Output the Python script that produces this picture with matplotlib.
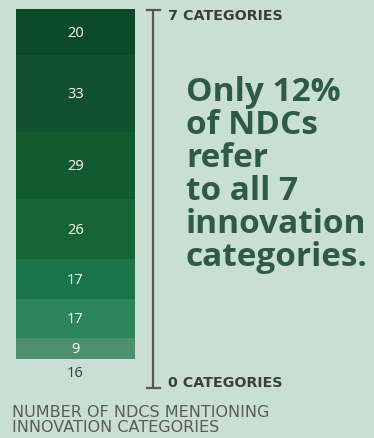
import matplotlib
matplotlib.use("Agg")
import matplotlib.pyplot as plt

# Number of NDCs by how many innovation categories they mention (7 down to 0)
categories = [7, 6, 5, 4, 3, 2, 1, 0]
ndc_counts = [20, 33, 29, 26, 17, 17, 9, 16]
segment_colors = ["#0b4a27", "#0f522d", "#125b31", "#156536",
                  "#197447", "#2c855a", "#4e8f6f", "none"]

headline = "Only 12%\nof NDCs\nrefer\nto all 7\ninnovation\ncategories."
top_label = "7 CATEGORIES"
bottom_label = "0 CATEGORIES"
footer = "NUMBER OF NDCS MENTIONING\nINNOVATION CATEGORIES"

BG = "#c9dfd4"
W, H = 374, 439
fig = plt.figure(figsize=(W / 100, H / 100), dpi=100, facecolor=BG)

# stacked column: 1 category sits at the bottom, 7 at the top
stack_order = list(range(len(categories) - 2, -1, -1))  # skip the 0-category group
colored_total = sum(ndc_counts[i] for i in stack_order)
ax = fig.add_axes([16 / W, 1 - 360 / H, (135 - 16) / W, 350 / H])
ax.set_facecolor("none")
ax.set_xlim(0, 1)
ax.set_ylim(0, colored_total)
ax.axis("off")

base = 0
for i in stack_order:
    v = ndc_counts[i]
    ax.bar(0.5, v, width=1.0, bottom=base, color=segment_colors[i],
           edgecolor="none", linewidth=0)
    ax.text(0.5, base + v / 2, str(v), ha="center", va="center",
            color="white", fontsize=10.5, family="Open Sans")
    base += v

# NDCs mentioning no category: count only, no bar
zero_idx = categories.index(0)
ax.text(0.5, -6, str(ndc_counts[zero_idx]), ha="center", va="center",
        color="#3a3a3a", fontsize=10.5, family="Open Sans", clip_on=False)

# scale bracket on the right of the column
ax2 = fig.add_axes([0, 0, 1, 1])
ax2.set_xlim(0, W)
ax2.set_ylim(H, 0)
ax2.axis("off")
line_col = "#555555"
ax2.plot([153, 153], [10, 389], color=line_col, lw=1.6, solid_capstyle="butt")
ax2.plot([147, 160], [10.5, 10.5], color=line_col, lw=1.6)
ax2.plot([147, 160], [389, 389], color=line_col, lw=1.6)

ax2.text(168, 16, top_label, ha="left", va="center", color="#3d3d3d",
         fontsize=10.3, fontweight="bold", family="DejaVu Sans")
ax2.text(168, 383, bottom_label, ha="left", va="center", color="#3d3d3d",
         fontsize=10.3, fontweight="bold", family="DejaVu Sans")

ax2.text(186, 175, headline, ha="left", va="center", color="#2f5b45",
         fontsize=24, fontweight="bold", family="Open Sans", linespacing=1.0)

ax2.text(12, 420, footer, ha="left", va="center", color="#5a5a5a",
         fontsize=11.5, family="DejaVu Sans", linespacing=0.95)

fig.savefig("out.png", dpi=100, facecolor=BG)
